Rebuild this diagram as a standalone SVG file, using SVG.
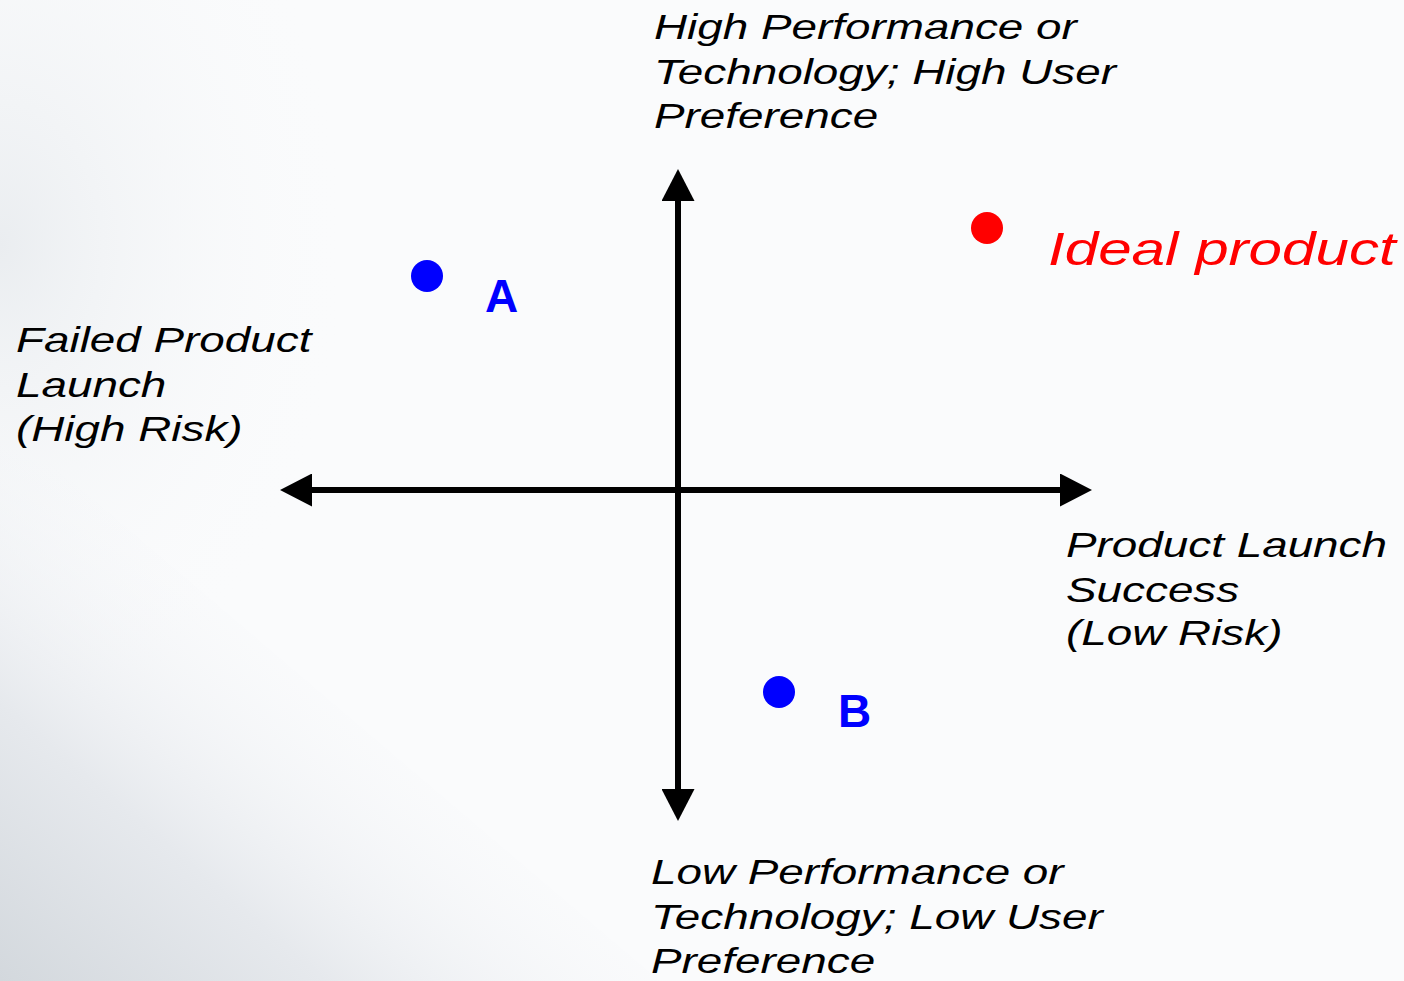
<svg xmlns="http://www.w3.org/2000/svg" width="1404" height="981" viewBox="0 0 1404 981">
  <defs>
    <linearGradient id="bgGrad" x1="0" y1="1" x2="0.55" y2="0.45">
      <stop offset="0" stop-color="#d3d8dd"/>
      <stop offset="0.45" stop-color="#e6e9ed"/>
      <stop offset="1" stop-color="#f8f9fb" stop-opacity="0"/>
    </linearGradient>
    <radialGradient id="topGrad" cx="0" cy="0.25" r="0.5">
      <stop offset="0" stop-color="#eaedf0"/>
      <stop offset="1" stop-color="#fafbfc" stop-opacity="0"/>
    </radialGradient>
    <marker id="arrow" viewBox="0 0 32 33" refX="1" refY="16.5" markerWidth="32" markerHeight="33" markerUnits="userSpaceOnUse" orient="auto">
      <path d="M0,0 L32,16.5 L0,33 Z" fill="#000"/>
    </marker>
    <style>
      .lbl { font-family: "Liberation Sans", Arial, sans-serif; font-style: italic; font-size: 35px; fill: #000; }
      .ideal { font-family: "Liberation Sans", Arial, sans-serif; font-style: italic; font-size: 47px; fill: #ff0000; }
      .pt { font-family: "Liberation Sans", Arial, sans-serif; font-weight: bold; font-size: 46px; fill: #0000ff; }
      .axis { stroke: #000; stroke-width: 6; fill: none; }
    </style>
  </defs>

  <g id="background">
    <rect x="0" y="0" width="1404" height="981" fill="#fafbfc"/>
    <rect x="0" y="0" width="700" height="981" fill="url(#topGrad)"/>
    <polygon points="0,420 0,981 660,981" fill="url(#bgGrad)"/>
  </g>

  <g id="connectors">
    <line class="axis" x1="678" y1="490" x2="678" y2="200" marker-end="url(#arrow)"/>
    <line class="axis" x1="678" y1="490" x2="678" y2="790" marker-end="url(#arrow)"/>
    <line class="axis" x1="678" y1="490" x2="311" y2="490" marker-end="url(#arrow)"/>
    <line class="axis" x1="678" y1="490" x2="1061" y2="490" marker-end="url(#arrow)"/>
  </g>

  <g id="label-top">
    <text class="lbl" transform="translate(654 0) scale(1.31 1)">
      <tspan x="0" y="39">High Performance or</tspan>
      <tspan x="0" y="84">Technology; High User</tspan>
      <tspan x="0" y="128">Preference</tspan>
    </text>
  </g>

  <g id="label-left">
    <text class="lbl" transform="translate(16 0) scale(1.31 1)">
      <tspan x="0" y="352">Failed Product</tspan>
      <tspan x="0" y="397">Launch</tspan>
      <tspan x="0" y="441">(High Risk)</tspan>
    </text>
  </g>

  <g id="label-right">
    <text class="lbl" transform="translate(1066 0) scale(1.31 1)">
      <tspan x="0" y="557">Product Launch</tspan>
      <tspan x="0" y="602">Success</tspan>
      <tspan x="0" y="645">(Low Risk)</tspan>
    </text>
  </g>

  <g id="label-bottom">
    <text class="lbl" transform="translate(651 0) scale(1.31 1)">
      <tspan x="0" y="884">Low Performance or</tspan>
      <tspan x="0" y="929">Technology; Low User</tspan>
      <tspan x="0" y="973">Preference</tspan>
    </text>
  </g>

  <g id="point-ideal">
    <circle cx="987" cy="228" r="16" fill="#ff0000"/>
    <text class="ideal" transform="translate(1048 0) scale(1.28 1)" x="0" y="265">Ideal product</text>
  </g>

  <g id="point-a">
    <circle cx="427" cy="276" r="16" fill="#0000ff"/>
    <text class="pt" x="485" y="312">A</text>
  </g>

  <g id="point-b">
    <circle cx="779" cy="692" r="16" fill="#0000ff"/>
    <text class="pt" x="838" y="727">B</text>
  </g>
</svg>
